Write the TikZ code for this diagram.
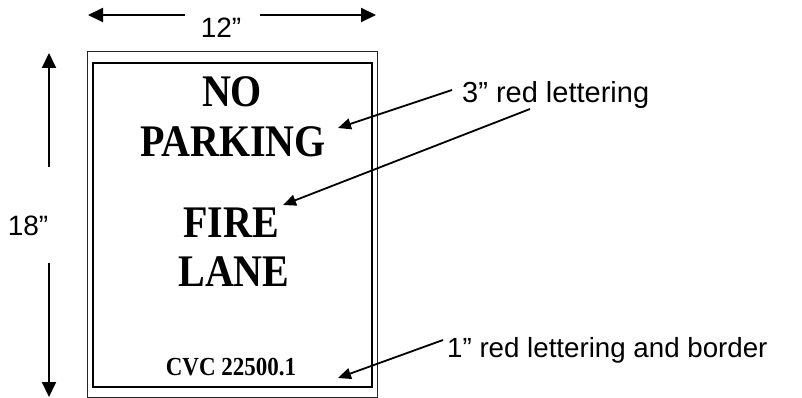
\documentclass[tikz,border=0pt]{standalone}
\usepackage{fontspec}
\setmainfont{Liberation Serif}
\newfontfamily\timesb{Liberation Serif Bold}
\newfontfamily\arialf{Liberation Sans}
\usetikzlibrary{arrows.meta}
\tikzset{
  dimarrow/.style={line width=2pt,-{Triangle[length=15pt,width=14pt]}},
  lblarrow/.style={line width=1.8pt,-{Triangle[length=13pt,width=11pt]}},
  signtext/.style={anchor=base,inner sep=0pt,font=\timesb\fontsize{40}{40}\selectfont},
  smalltext/.style={anchor=base,inner sep=0pt,font=\timesb\fontsize{23}{23}\selectfont},
  sanslabel/.style={anchor=base west,inner sep=0pt,font=\arialf\fontsize{29}{29}\selectfont},
  sanslabelb/.style={anchor=base west,inner sep=0pt,font=\arialf\fontsize{27.7}{28}\selectfont},
  dimlabel/.style={anchor=base,inner sep=0pt,font=\arialf\fontsize{28}{28}\selectfont}
}
\newcommand{\tallx}[1]{\scalebox{1}[1.13]{#1}}
\begin{document}
\begin{tikzpicture}[x=1pt,y=-1pt]
\useasboundingbox (0,0) rectangle (802,398);
% sign borders
\draw[line width=1pt,black!85] (87,52) rectangle (377,397);
\draw[line width=2.2pt] (93,63) rectangle (372,387);
% sign texts
\node[signtext] (no) at (232,107) {\tallx{NO}};
\node[signtext] (parking) at (233,157) {\tallx{PARKING}};
\node[signtext] (fire) at (231,237) {\tallx{FIRE}};
\node[signtext] (lane) at (234,286) {\tallx{LANE}};
\node[smalltext] (cvc) at (231,375) {\tallx{CVC 22500.1}};
% width dimension
\coordinate (wl) at (88,15);
\coordinate (wla) at (185,15);
\coordinate (wrb) at (260,15);
\coordinate (wr) at (376,15);
\draw[dimarrow] (wla) -- (wl);
\draw[dimarrow] (wrb) -- (wr);
\node[dimlabel] (w) at (221,38) {12”};
% height dimension
\coordinate (ht) at (49,53);
\coordinate (hta) at (49,167);
\coordinate (hbb) at (49,263);
\coordinate (hb) at (49,397);
\draw[dimarrow] (hta) -- (ht);
\draw[dimarrow] (hbb) -- (hb);
\node[dimlabel] (h) at (28,235) {18”};
% labels
\node[sanslabel] (lab3) at (462,103) {3” red lettering};
\node[sanslabelb] (lab1) at (447,357) {1” red lettering and border};
\coordinate (a1s) at (452,90);
\coordinate (a1e) at (338,128);
\coordinate (a2s) at (530,109);
\coordinate (a2e) at (283,205);
\coordinate (a3s) at (443,340);
\coordinate (a3e) at (338,378);
\draw[lblarrow] (a1s) -- (a1e);
\draw[lblarrow] (a2s) -- (a2e);
\draw[lblarrow] (a3s) -- (a3e);
\end{tikzpicture}
\end{document}
